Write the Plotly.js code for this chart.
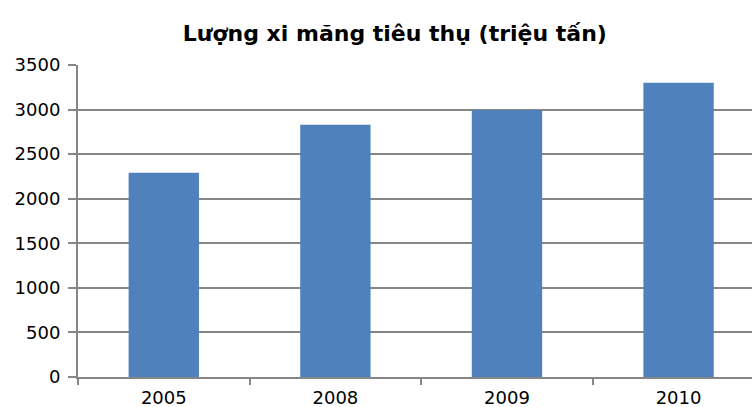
<!DOCTYPE html>
<html><head><meta charset="utf-8">
<script src="https://cdn.plot.ly/plotly-3.0.1.min.js"></script>
<style>html,body{margin:0;padding:0;overflow:hidden;background:#fff}</style>
</head><body><div id="chart" style="width:752px;height:407px"></div>
<script>
const years = ['2005', '2008', '2009', '2010'];
const consumption = [2290, 2830, 2995, 3300];
const yTicks = [0, 500, 1000, 1500, 2000, 2500, 3000, 3500];
const chartTitle = 'Lượng xi măng tiêu thụ (triệu tấn)';

const grid = '#868686';
Plotly.newPlot('chart', [{
  type: 'bar', x: years, y: consumption,
  marker: {color: '#4F81BD'}, hoverinfo: 'none'
}], {
  width: 752, height: 407,
  margin: {l: 78, r: 0, t: 65, b: 30},
  paper_bgcolor: '#fff', plot_bgcolor: '#fff',
  bargap: 0.59,
  font: {family: 'DejaVu Sans, sans-serif', size: 18, color: '#000'},
  title: {text: '<b>' + chartTitle + '</b>', x: 0.525, xanchor: 'center', y: 0.918, yanchor: 'middle',
          font: {size: 22, family: 'DejaVu Sans, sans-serif', color: '#000'}},
  xaxis: {type: 'category', range: [-0.5, 3.428], showgrid: false, zeroline: false,
          showline: true, linecolor: grid, linewidth: 2,
          ticks: 'outside', tickson: 'boundaries', ticklen: 6, tickcolor: grid, tickwidth: 2,
          ticklabelstandoff: 3},
  yaxis: {range: [0, 3500], tickvals: yTicks, showgrid: true, gridcolor: grid, gridwidth: 2,
          zeroline: false, showline: true, linecolor: grid, linewidth: 2,
          ticks: 'outside', ticklen: 8, tickcolor: grid, tickwidth: 2, ticklabelstandoff: 4}
}, {staticPlot: true});
</script></body></html>
